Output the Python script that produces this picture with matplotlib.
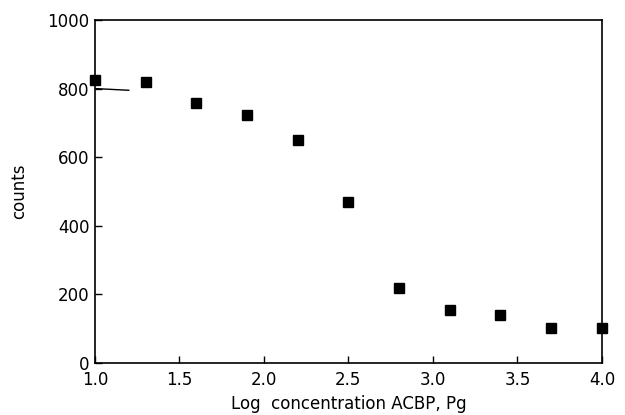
import numpy as np
import matplotlib.pyplot as plt

log_conc = [1.0, 1.3, 1.6, 1.9, 2.2, 2.5, 2.8, 3.1, 3.4, 3.7, 4.0]
counts = [825, 819, 758, 723, 650, 469, 219, 155, 140, 102, 102]

# short stray stroke near the 800 tick in the original
stroke_x = [1.0, 1.2]
stroke_y = [800, 795]

fig = plt.figure(figsize=(6.25, 4.15), dpi=100)
ax = fig.add_axes([0.152, 0.125, 0.811, 0.827])

ax.plot(log_conc, counts, linestyle="none", marker="s", markersize=7,
        color="black", clip_on=False)
ax.plot(stroke_x, stroke_y, color="black", linewidth=1)

ax.set_xlim(1.0, 4.0)
ax.set_ylim(0, 1000)
ax.set_xticks([1.0, 1.5, 2.0, 2.5, 3.0, 3.5, 4.0])
ax.set_yticks([0, 200, 400, 600, 800, 1000])
ax.set_xticklabels(["1.0", "1.5", "2.0", "2.5", "3.0", "3.5", "4.0"])
ax.tick_params(direction="in", length=5, width=1, labelsize=12)
ax.tick_params(axis="x", pad=6)
ax.tick_params(axis="y", pad=4)
for s in ax.spines.values():
    s.set_linewidth(1.2)

ax.set_xlabel("Log  concentration ACBP, Pg", fontsize=12, labelpad=4)
ax.set_ylabel("counts", fontsize=12, labelpad=14)

fig.savefig("out.png", dpi=100)
